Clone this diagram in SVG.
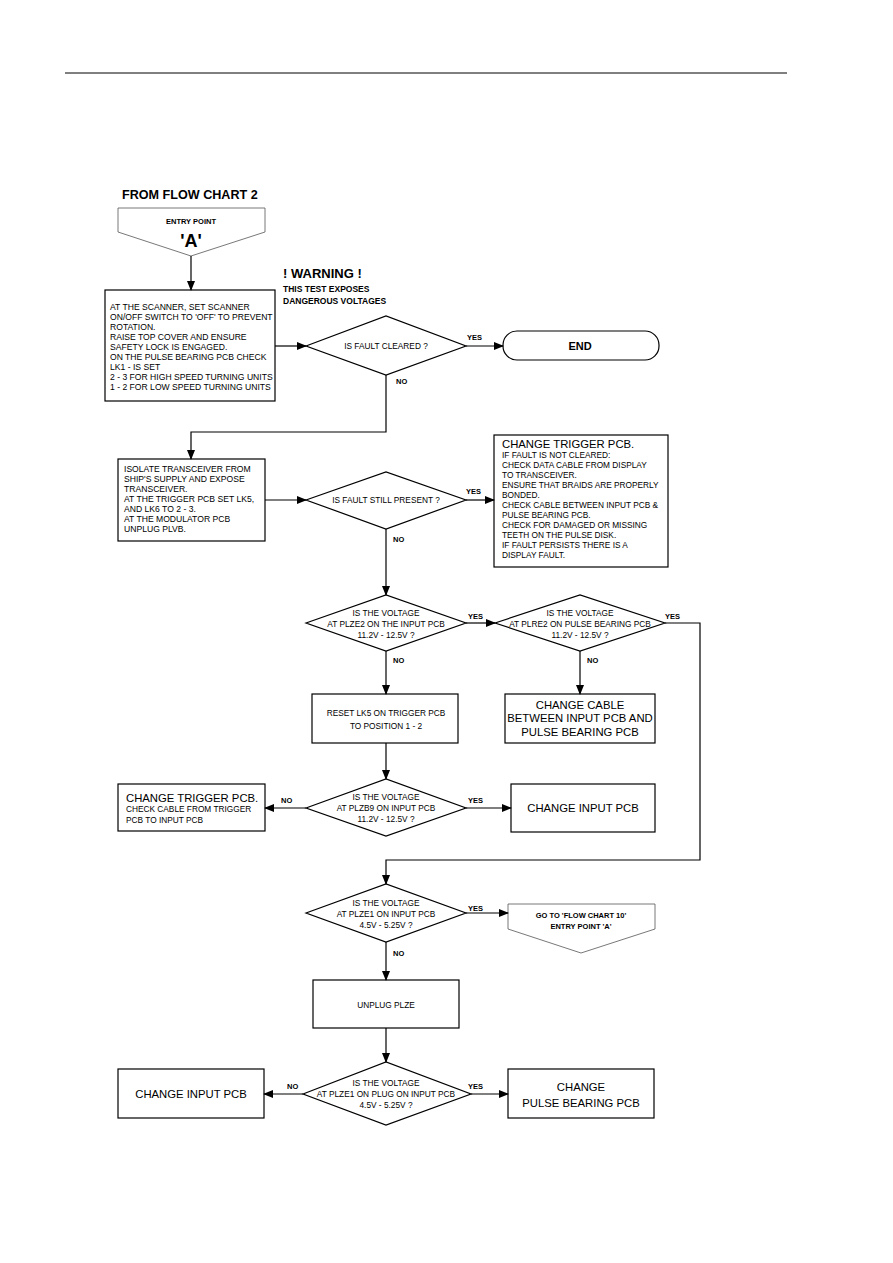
<svg xmlns="http://www.w3.org/2000/svg" width="893" height="1263" viewBox="0 0 893 1263">
<style>
.box{fill:#fff;stroke:#000;stroke-width:1.2}
.pent{fill:#fff;stroke:#555;stroke-width:0.8}
text{font-family:"Liberation Sans",Arial,sans-serif;font-size:8.3px;fill:#000}
.c{text-anchor:middle}
.b{font-weight:bold}
.m{font-size:8.6px}
.lbl{font-size:7.5px;font-weight:bold}
.big{font-size:11.3px}
#connectors path{fill:none;stroke:#000;stroke-width:1.2;marker-end:url(#ah)}
</style>
<defs>
<marker id="ah" markerUnits="userSpaceOnUse" markerWidth="10" markerHeight="8" refX="9" refY="4" orient="auto">
<path d="M0,0 L10,4 L0,8 Z" fill="#000"/>
</marker>
</defs>
<rect width="893" height="1263" fill="#fff"/>
<line x1="65" y1="73" x2="787" y2="73" stroke="#000" stroke-width="1"/>

<g id="title">
<text x="122" y="199" class="b" style="font-size:12.6px">FROM FLOW CHART 2</text>
</g>
<g id="warning">
<text x="283" y="278" class="b" style="font-size:13px">! WARNING !</text>
<text x="283" y="292" class="b" style="font-size:8.5px">THIS TEST EXPOSES</text>
<text x="283" y="304" class="b" style="font-size:8.5px">DANGEROUS VOLTAGES</text>
</g>

<g id="entry">
<path class="pent" d="M118,208 L265,208 L265,232 L191,256 L118,232 Z"/>
<text x="191" y="224" class="c b" style="font-size:7.5px">ENTRY POINT</text>
<text x="191" y="247" class="c b" style="font-size:18px">'A'</text>
</g>

<g id="box1">
<rect class="box" x="105" y="290" width="170" height="111"/>
<text x="110" y="310" class="m">AT THE SCANNER, SET SCANNER</text>
<text x="110" y="320" class="m">ON/OFF SWITCH TO 'OFF' TO PREVENT</text>
<text x="110" y="330" class="m">ROTATION.</text>
<text x="110" y="340" class="m">RAISE TOP COVER AND ENSURE</text>
<text x="110" y="350" class="m">SAFETY LOCK IS ENGAGED.</text>
<text x="110" y="360" class="m">ON THE PULSE BEARING PCB CHECK</text>
<text x="110" y="370" class="m">LK1 - IS SET</text>
<text x="110" y="380" class="m">2 - 3 FOR HIGH SPEED TURNING UNITS</text>
<text x="110" y="390" class="m">1 - 2 FOR LOW SPEED TURNING UNITS</text>
</g>

<g id="d1">
<path class="box" d="M306,346 L386,316 L466,346 L386,375 Z"/>
<text x="386" y="349" class="c">IS FAULT CLEARED ?</text>
</g>

<g id="end">
<rect class="box" x="503" y="331" width="156" height="29" rx="14" ry="14"/>
<text x="580" y="350" class="c b" style="font-size:11px">END</text>
</g>

<g id="box2">
<rect class="box" x="118" y="459" width="147" height="82"/>
<text x="124" y="472" class="m">ISOLATE TRANSCEIVER FROM</text>
<text x="124" y="482" class="m">SHIP'S SUPPLY AND EXPOSE</text>
<text x="124" y="492" class="m">TRANSCEIVER.</text>
<text x="124" y="502" class="m">AT THE TRIGGER PCB SET LK5,</text>
<text x="124" y="512" class="m">AND LK6 TO 2 - 3.</text>
<text x="124" y="522" class="m">AT THE MODULATOR PCB</text>
<text x="124" y="532" class="m">UNPLUG PLVB.</text>
</g>

<g id="d2">
<path class="box" d="M306,500 L386,472 L466,500 L386,529 Z"/>
<text x="386" y="503" class="c">IS FAULT STILL PRESENT ?</text>
</g>

<g id="trig1">
<rect class="box" x="494" y="435" width="174" height="132"/>
<text x="502" y="448" class="big">CHANGE TRIGGER PCB.</text>
<text x="502" y="458">IF FAULT IS NOT CLEARED:</text>
<text x="502" y="468">CHECK DATA CABLE FROM DISPLAY</text>
<text x="502" y="478">TO TRANSCEIVER.</text>
<text x="502" y="488">ENSURE THAT BRAIDS ARE PROPERLY</text>
<text x="502" y="498">BONDED.</text>
<text x="502" y="508">CHECK CABLE BETWEEN INPUT PCB &amp;</text>
<text x="502" y="518">PULSE BEARING PCB.</text>
<text x="502" y="528">CHECK FOR DAMAGED OR MISSING</text>
<text x="502" y="538">TEETH ON THE PULSE DISK.</text>
<text x="502" y="548">IF FAULT PERSISTS THERE IS A</text>
<text x="502" y="558">DISPLAY FAULT.</text>
</g>

<g id="d3">
<path class="box" d="M306,623 L386,595 L466,623 L386,651 Z"/>
<text x="386" y="616" class="c">IS THE VOLTAGE</text>
<text x="386" y="627" class="c">AT PLZE2 ON THE INPUT PCB</text>
<text x="386" y="638" class="c">11.2V - 12.5V ?</text>
</g>

<g id="d4">
<path class="box" d="M495,623 L580,595 L665,623 L580,651 Z"/>
<text x="580" y="616" class="c">IS THE VOLTAGE</text>
<text x="580" y="627" class="c">AT PLRE2 ON PULSE BEARING PCB</text>
<text x="580" y="638" class="c">11.2V - 12.5V ?</text>
</g>

<g id="reset">
<rect class="box" x="312" y="694" width="146" height="49"/>
<text x="386" y="716" class="c">RESET LK5 ON TRIGGER PCB</text>
<text x="386" y="729" class="c">TO POSITION 1 - 2</text>
</g>

<g id="cable">
<rect class="box" x="505" y="694" width="150" height="49"/>
<text x="580" y="709" class="c big">CHANGE CABLE</text>
<text x="580" y="722" class="c big">BETWEEN INPUT PCB AND</text>
<text x="580" y="736" class="c big">PULSE BEARING PCB</text>
</g>

<g id="d5">
<path class="box" d="M306,808 L386,779 L466,808 L386,836 Z"/>
<text x="386" y="800" class="c">IS THE VOLTAGE</text>
<text x="386" y="811" class="c">AT PLZB9 ON INPUT PCB</text>
<text x="386" y="822" class="c">11.2V - 12.5V ?</text>
</g>

<g id="trig2">
<rect class="box" x="118" y="784" width="147" height="47"/>
<text x="126" y="802" class="big">CHANGE TRIGGER PCB.</text>
<text x="126" y="812">CHECK CABLE FROM TRIGGER</text>
<text x="126" y="823">PCB TO INPUT PCB</text>
</g>

<g id="input1">
<rect class="box" x="511" y="784" width="144" height="48"/>
<text x="583" y="812" class="c big">CHANGE INPUT PCB</text>
</g>

<g id="d6">
<path class="box" d="M306,913 L386,884 L466,913 L386,942 Z"/>
<text x="386" y="906" class="c">IS THE VOLTAGE</text>
<text x="386" y="917" class="c">AT PLZE1 ON INPUT PCB</text>
<text x="386" y="928" class="c">4.5V - 5.25V ?</text>
</g>

<g id="goto">
<path class="pent" d="M508,904 L655,904 L655,929 L581,953 L508,929 Z"/>
<text x="581" y="918" class="c b" style="font-size:7.5px">GO TO 'FLOW CHART 10'</text>
<text x="581" y="929" class="c b" style="font-size:7.5px">ENTRY POINT 'A'</text>
</g>

<g id="unplug">
<rect class="box" x="313" y="980" width="146" height="48"/>
<text x="386" y="1008" class="c">UNPLUG PLZE</text>
</g>

<g id="d7">
<path class="box" d="M303,1094 L386,1062 L471,1094 L386,1125 Z"/>
<text x="386" y="1086" class="c">IS THE VOLTAGE</text>
<text x="386" y="1097" class="c">AT PLZE1 ON PLUG ON INPUT PCB</text>
<text x="386" y="1108" class="c">4.5V - 5.25V ?</text>
</g>

<g id="input2">
<rect class="box" x="118" y="1069" width="146" height="49"/>
<text x="191" y="1098" class="c big">CHANGE INPUT PCB</text>
</g>

<g id="pulse">
<rect class="box" x="508" y="1069" width="146" height="49"/>
<text x="581" y="1091" class="c big">CHANGE</text>
<text x="581" y="1107" class="c big">PULSE BEARING PCB</text>
</g>

<g id="connectors">
<path d="M191,256 L191,290"/>
<path d="M275,346 L306,346"/>
<path d="M466,346 L503,346"/>
<path d="M386,375 L386,432 L191,432 L191,459"/>
<path d="M265,500 L306,500"/>
<path d="M466,500 L494,500"/>
<path d="M386,529 L386,595"/>
<path d="M466,623 L495,623"/>
<path d="M665,623 L700,623 L700,860 L386,860 L386,884"/>
<path d="M386,651 L386,694"/>
<path d="M580,651 L580,694"/>
<path d="M386,743 L386,779"/>
<path d="M306,808 L265,808"/>
<path d="M466,808 L511,808"/>
<path d="M466,913 L508,913"/>
<path d="M386,942 L386,980"/>
<path d="M386,1028 L386,1062"/>
<path d="M303,1094 L264,1094"/>
<path d="M471,1094 L508,1094"/>
</g>

<g id="labels">
<text x="467" y="340" class="lbl">YES</text>
<text x="396" y="384" class="lbl">NO</text>
<text x="466" y="494" class="lbl">YES</text>
<text x="393" y="542" class="lbl">NO</text>
<text x="468" y="619" class="lbl">YES</text>
<text x="393" y="663" class="lbl">NO</text>
<text x="665" y="619" class="lbl">YES</text>
<text x="587" y="663" class="lbl">NO</text>
<text x="281" y="803" class="lbl">NO</text>
<text x="468" y="803" class="lbl">YES</text>
<text x="468" y="911" class="lbl">YES</text>
<text x="393" y="956" class="lbl">NO</text>
<text x="287" y="1089" class="lbl">NO</text>
<text x="468" y="1089" class="lbl">YES</text>
</g>
</svg>
